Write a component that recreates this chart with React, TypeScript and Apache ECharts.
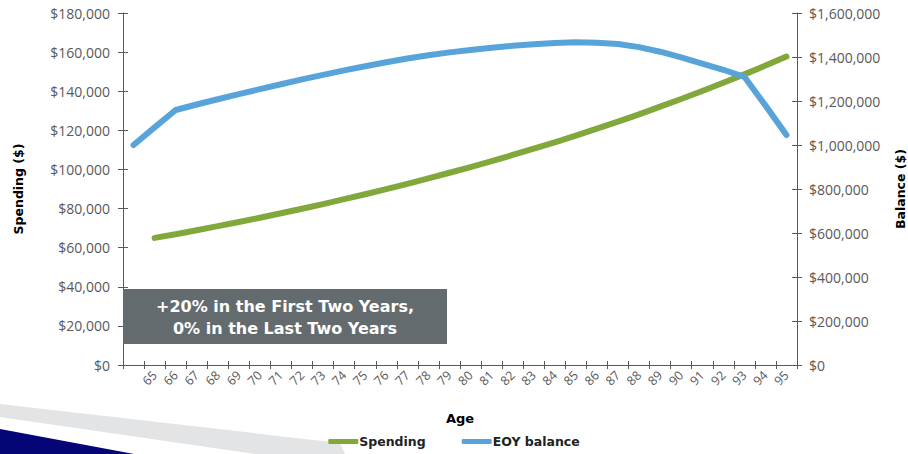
import React, { useEffect, useRef } from "react";
import * as echarts from "echarts";

const ages: string[] = ["", "65", "66", "67", "68", "69", "70", "71", "72", "73", "74", "75", "76", "77", "78", "79", "80", "81", "82", "83", "84", "85", "86", "87", "88", "89", "90", "91", "92", "93", "94", "95"];

const spending: (number | null)[] = [null, 65000, 66900, 68900, 71000, 73100, 75300, 77600, 79900, 82300, 84800, 87300, 89900, 92600, 95400, 98300, 101200, 104200, 107400, 110600, 113900, 117300, 120900, 124500, 128200, 132100, 136000, 140100, 144300, 148600, 153100, 157700];

const eoyBalance: number[] = [1000000, 1080000, 1159000, 1184000, 1208000, 1231000, 1254000, 1276000, 1298000, 1319000, 1339000, 1358000, 1376000, 1393000, 1408000, 1421000, 1432000, 1442000, 1451000, 1458000, 1464000, 1467000, 1465000, 1459000, 1445000, 1424000, 1398000, 1370000, 1342000, 1310000, 1180000, 1045000];

const spendingAxis = { min: 0, max: 180000, interval: 20000 };
const balanceAxis = { min: 0, max: 1600000, interval: 200000 };

const annotationLines: string[] = ["+20% in the First Two Years,", "0% in the Last Two Years"];

const FONT = "'Open Sans', 'DejaVu Sans', sans-serif";
const BOLD_FONT = "'DejaVu Sans', 'Open Sans', sans-serif";
const AXIS_COLOR = "#595959";
const GREEN = "#82A83C";
const BLUE = "#58A4DA";

const money = (v: number) => "$" + v.toLocaleString("en-US");

export default function App() {
  const ref = useRef<HTMLDivElement>(null);
  useEffect(() => {
    if (!ref.current) return;
    const chart = echarts.init(ref.current, undefined, { renderer: "svg" });
    const axisLine = { show: true, lineStyle: { color: AXIS_COLOR, width: 1 } };
    const tickStyle = { color: AXIS_COLOR, width: 1 };
    const titleStyle = { color: "#000", fontFamily: BOLD_FONT, fontWeight: "bold", fontSize: 12.5 };
    const yBase = (side: "left" | "right", range: any) => ({
      type: "value" as const,
      position: side,
      ...range,
      splitLine: { show: false },
      axisLine,
    });
    chart.setOption({
      animation: false,
      grid: { left: 123, right: 111, top: 13, bottom: 89, containLabel: false, outerBoundsMode: "none" },
      xAxis: [
        {
          type: "category",
          data: ages,
          boundaryGap: true,
          axisLine,
          axisTick: { show: true, length: 4, lineStyle: tickStyle, interval: 0 },
          axisLabel: { interval: 0, rotate: 45, color: AXIS_COLOR, fontFamily: FONT, fontSize: 12.5, margin: 8 },
          name: "Age",
          nameLocation: "middle",
          nameGap: 47,
          nameTextStyle: { ...titleStyle, fontSize: 13 },
        },
        {
          type: "category",
          data: ages,
          boundaryGap: true,
          position: "bottom",
          axisLine: { show: false },
          axisTick: { show: true, inside: true, length: 4, lineStyle: tickStyle, interval: 0 },
          axisLabel: { show: false },
        },
      ],
      yAxis: [
        {
          ...yBase("left", spendingAxis),
          axisTick: { show: true, length: 5, lineStyle: tickStyle },
          axisLabel: { color: AXIS_COLOR, fontFamily: FONT, fontSize: 14, margin: 13, formatter: money },
          name: "Spending ($)",
          nameLocation: "middle",
          nameGap: 98,
          nameTextStyle: titleStyle,
        },
        {
          ...yBase("right", balanceAxis),
          axisTick: { show: true, length: 5, lineStyle: tickStyle },
          axisLabel: { color: AXIS_COLOR, fontFamily: FONT, fontSize: 14, margin: 12, formatter: money },
          name: "Balance ($)",
          nameLocation: "middle",
          nameGap: 97,
          nameTextStyle: titleStyle,
        },
        {
          ...yBase("left", spendingAxis),
          axisLine: { show: false },
          axisTick: { show: true, inside: true, length: 5, lineStyle: tickStyle },
          axisLabel: { show: false },
        },
        {
          ...yBase("right", balanceAxis),
          axisLine: { show: false },
          axisTick: { show: true, inside: true, length: 5, lineStyle: tickStyle },
          axisLabel: { show: false },
        },
      ],
      legend: {
        top: 435,
        left: "center",
        padding: 0,
        itemGap: 36,
        itemWidth: 30,
        itemHeight: 5,
        icon: "roundRect",
        textStyle: { color: "#222", fontFamily: BOLD_FONT, fontWeight: "bold", fontSize: 12.5, padding: [0, 0, 0, -4] },
        data: ["Spending", "EOY balance"],
      },
      series: [
        {
          name: "Spending",
          type: "line",
          xAxisIndex: 0,
          yAxisIndex: 0,
          data: spending,
          showSymbol: false,
          symbol: "none",
          color: GREEN,
          lineStyle: { color: GREEN, width: 6, cap: "round", join: "round" },
        },
        {
          name: "EOY balance",
          type: "line",
          xAxisIndex: 0,
          yAxisIndex: 1,
          data: eoyBalance,
          showSymbol: false,
          symbol: "none",
          color: BLUE,
          lineStyle: { color: BLUE, width: 6, cap: "round", join: "round" },
        },
      ],
      graphic: [
        {
          type: "polygon",
          silent: true,
          shape: { points: [[0, 404], [340, 443], [345, 454], [255, 454], [0, 417]] },
          style: { fill: "#E3E4E6" },
        },
        {
          type: "polygon",
          silent: true,
          shape: { points: [[0, 429], [134, 454], [0, 454]] },
          style: { fill: "#050578" },
        },
        {
          type: "rect",
          shape: { x: 123, y: 289, width: 324, height: 55 },
          style: { fill: "#646B6E" },
          z: 10,
        },
        {
          type: "text",
          x: 285,
          y: 306,
          z: 11,
          style: {
            text: annotationLines[0],
            fill: "#fff",
            font: `bold 16px ${BOLD_FONT}`,
            textAlign: "center",
            textVerticalAlign: "middle",
          },
        },
        {
          type: "text",
          x: 285,
          y: 328,
          z: 11,
          style: {
            text: annotationLines[1],
            fill: "#fff",
            font: `bold 16px ${BOLD_FONT}`,
            textAlign: "center",
            textVerticalAlign: "middle",
          },
        },
      ],
    });
    return () => chart.dispose();
  }, []);
  return <div ref={ref} style={{ width: 908, height: 454, position: "absolute", left: 0, top: 0 }} />;
}
